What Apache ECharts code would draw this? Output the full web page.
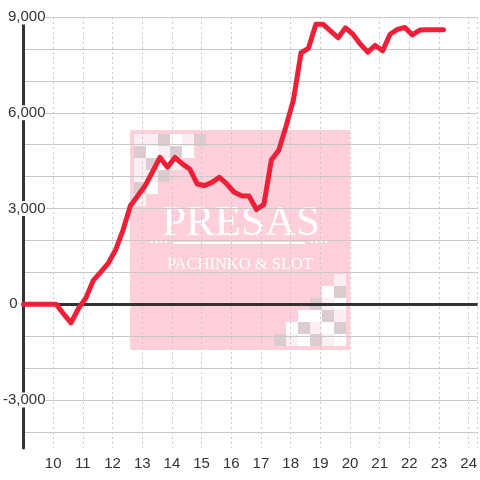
<!DOCTYPE html>
<html>
<head>
<meta charset="utf-8">
<script src="https://cdn.jsdelivr.net/npm/echarts@6/dist/echarts.min.js"></script>
<style>
html,body{margin:0;padding:0;background:#fff;}
#chart{width:480px;height:480px;}
</style>
</head>
<body>
<div id="chart"></div>
<script>
// 時刻(時)と差枚
var hours = [9, 10.1, 10.35, 10.6, 10.85, 11.1, 11.35, 11.6, 11.85, 12.1, 12.35, 12.6, 12.85,
  13.1, 13.35, 13.6, 13.85, 14.1, 14.35, 14.6, 14.85, 15.1, 15.35, 15.6, 15.85,
  16.1, 16.35, 16.6, 16.85, 17.1, 17.35, 17.6, 17.85, 18.1, 18.35, 18.6, 18.85,
  19.1, 19.35, 19.6, 19.85, 20.1, 20.35, 20.6, 20.85, 21.1, 21.35, 21.6, 21.85,
  22.1, 22.35, 22.6, 22.85, 23.15];
var values = [0, 0, -300, -580, -130, 200, 750, 1010, 1280, 1700, 2320, 3090, 3400,
  3720, 4160, 4600, 4290, 4600, 4400, 4240, 3770, 3720, 3820, 3980, 3770,
  3510, 3400, 3390, 2970, 3130, 4520, 4830, 5590, 6430, 7880, 8020, 8770,
  8770, 8560, 8350, 8660, 8460, 8150, 7900, 8110, 7940, 8460, 8610, 8670,
  8440, 8590, 8600, 8600, 8600];
var yLabelStep = 3000;

// ロゴの市松模様
var tlCells = ['llgwlg', 'gwlgw', 'lgwl', 'llg', 'gw', 'l'];
var brCells = ['l', 'wg', 'glw', 'wwgl', 'wglwg', 'glwglw'];
var cellColor = {w: '#ffffff', l: '#fdeef4', g: '#dccbcf'};

var points = hours.map(function(h, i){ return [h, values[i]]; });

function checker(rows, x0, y0, alignRight){
  var out = [];
  rows.forEach(function(r, ri){
    for (var ci = 0; ci < r.length; ci++) {
      var x = alignRight ? x0 - (r.length - ci) * 12 : x0 + ci * 12;
      out.push({type:'rect', shape:{x:x, y:y0 + ri * 12, width:12, height:12},
        style:{fill:cellColor[r[ci]]}});
    }
  });
  return out;
}

var logo = [{type:'rect', shape:{x:130, y:130, width:220, height:220}, style:{fill:'#ffcfdc'}}]
  .concat(checker(tlCells, 134, 134, false))
  .concat(checker(brCells, 346, 274, true))
  .concat([
    {type:'text', style:{x:241, y:224, text:'PRESAS', fill:'#fff', font:'43px "Liberation Serif"', align:'center', verticalAlign:'middle'}},
    {type:'rect', shape:{x:173, y:242, width:132, height:2}, style:{fill:'#fff'}},
    {type:'text', style:{x:159, y:243, text:'••••', fill:'#fff', font:'8px "DejaVu Sans"', align:'center', verticalAlign:'middle'}},
    {type:'text', style:{x:319, y:243, text:'••••', fill:'#fff', font:'8px "DejaVu Sans"', align:'center', verticalAlign:'middle'}},
    {type:'text', style:{x:240, y:265, text:'PACHINKO & SLOT', fill:'#fff', font:'16.5px "Liberation Serif"', align:'center', verticalAlign:'middle'}}
  ]);

var chart = echarts.init(document.getElementById('chart'));
chart.setOption({
  animation: false,
  graphic: [{type:'group', z:-10, silent:true, children:logo}],
  grid: {left:21, right:0, top:17, bottom:32, containLabel:false},
  xAxis: {
    type:'value', min:9, max:24.3, interval:1,
    axisLine:{show:false}, axisTick:{show:false},
    axisLabel:{color:'#333', fontSize:15, fontFamily:'Liberation Sans', margin:8,
      showMaxLabel:false,
      formatter:function(v){ return v > 9 && v <= 24 ? String(v) : ''; }},
    splitLine:{show:true, lineStyle:{color:'#c8c8c8', type:[2,3], width:1}}
  },
  yAxis: {
    type:'value', min:-4500, max:9000, interval:500,
    axisLine:{show:true, lineStyle:{color:'#333', width:3}},
    axisTick:{show:false},
    axisLabel:{
      align:'right', margin:-22, fontSize:15, fontFamily:'Liberation Sans', color:'#333',
      formatter:function(v){
        if (v === 0) return '{z|0}';
        if (v % yLabelStep !== 0) return '';
        return '{a|' + v.toLocaleString('en-US') + '}';
      },
      rich:{
        a:{backgroundColor:'#fff', fontSize:15, fontFamily:'Liberation Sans', color:'#333', lineHeight:14},
        z:{fontSize:15, fontFamily:'Liberation Sans', color:'#333', padding:[0,28,0,0]}
      }
    },
    splitLine:{show:true, lineStyle:{color:['rgba(0,0,0,0)', '#c8c8c8'], width:1}}
  },
  series: [{
    type:'line', data:points, symbol:'none', z:6,
    lineStyle:{color:'#ee1f36', width:5, cap:'round', join:'round'},
    markLine:{z:1, silent:true, symbol:'none', label:{show:false},
      lineStyle:{color:'#333', width:3, type:'solid'},
      data:[{yAxis:0}]}
  }]
});
</script>
</body>
</html>
